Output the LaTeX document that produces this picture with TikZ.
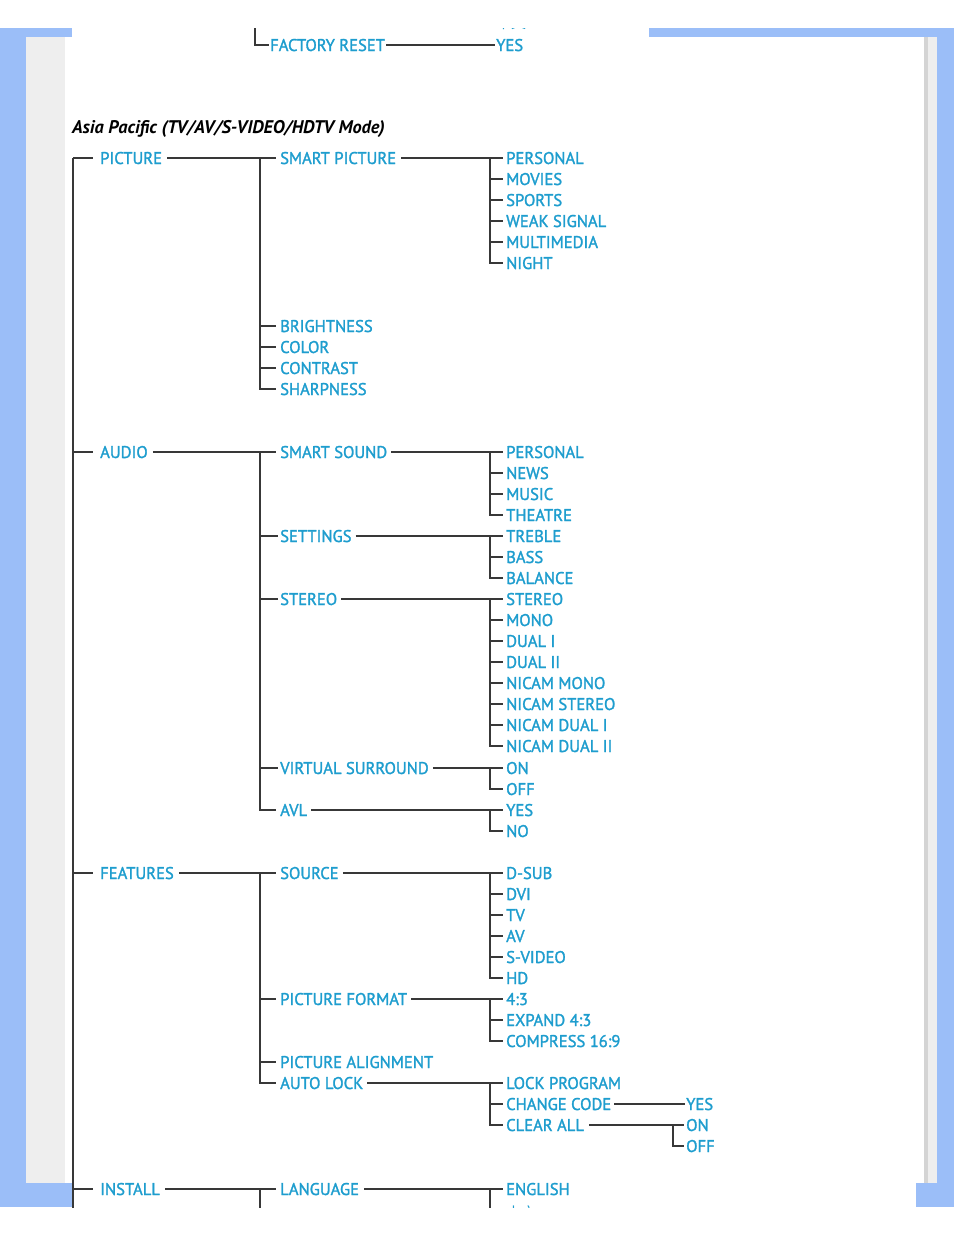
\documentclass[tikz,border=0pt]{standalone}
\usepackage{fontspec}
\setmainfont{PT Sans}
\newfontfamily\menufont{PT Sans}[FakeBold=1.6, FakeStretch=0.975]
\newfontfamily\cjkfont{Noto Sans CJK SC}
\usepackage{tikz}
\usetikzlibrary{calc}

\definecolor{menublue}{RGB}{30,157,206}
\definecolor{pageblue}{RGB}{155,190,248}
\definecolor{stripgray}{RGB}{238,238,238}
\definecolor{edgegray}{RGB}{212,212,212}

\tikzset{
    lbl/.style={anchor=west, inner sep=0pt, text height=12pt, text depth=0pt,
        text=menublue, font=\menufont\fontsize{17}{17}\selectfont},
    link/.style={draw=black!78, line width=1.1pt},
}

\begin{document}
\begin{tikzpicture}[x=1pt, y=-1pt]
    \useasboundingbox (0,0) rectangle (954,1235);
    % Page frame
    \fill[pageblue] (0,28) rectangle (26,1207);
    \fill[stripgray] (26,37) rectangle (65,1183);
    \fill[pageblue] (0,28) rectangle (72,37);
    \fill[pageblue] (649,28) rectangle (954,37);
    \fill[pageblue] (0,1183) rectangle (72,1207);
    \fill[edgegray] (924,37) rectangle (928,1183);
    \fill[stripgray] (928,37) rectangle (937,1183);
    \fill[pageblue] (937,28) rectangle (954,1207);
    \fill[pageblue] (916,1183) rectangle (954,1207);
    % Trunk columns
    \coordinate (t0) at (73,0);
    \coordinate (t1) at (260,0);
    \coordinate (t2) at (490,0);
    \coordinate (t3) at (673,0);
    \coordinate (cut) at (0,1220);
    \begin{scope}
        \clip (65,28) rectangle (924,1207);
        % Tail of the previous menu
        \coordinate (frtop) at (255,20);
        \node[lbl] (fr) at (270,45) {FACTORY RESET};
        \node[lbl] (fryes) at (496,45) {YES};
        \node[lbl, font=\cjkfont\fontsize{15}{15}\selectfont] (prevcn) at (496,22) {中文};
        \draw[link] (frtop) |- ([xshift=-1pt]fr.west);
        \draw[link] ([xshift=1pt]fr.east) -- ([xshift=-1pt]fryes.west);
        % Title
        \node[anchor=west, inner sep=0pt, text height=13pt, text depth=0pt,
            font=\fontsize{18.3}{18.3}\selectfont\bfseries\itshape] (title) at (72,127)
            {Asia Pacific (TV/AV/S-VIDEO/HDTV Mode)};
        % Main menu
        \node[lbl] (pic) at (100,158) {PICTURE};
        \node[lbl] (aud) at (100,452) {AUDIO};
        \node[lbl] (feat) at (100,873) {FEATURES};
        \node[lbl] (inst) at (100,1189) {INSTALL};
        \draw[link] (t0 |- pic.west) -- (t0 |- cut);
        \foreach \n in {pic,aud,feat,inst}
            \draw[link] (t0 |- \n.west) -- ([xshift=-7pt]\n.west);
        % PICTURE
        \node[lbl] (spic) at (280,158) {SMART PICTURE};
        \foreach \t [count=\i] in {BRIGHTNESS,COLOR,CONTRAST,SHARPNESS}
            \node[lbl] (pset\i) at (280,{305+21*\i}) {\t};
        \foreach \t [count=\i] in {PERSONAL,MOVIES,SPORTS,WEAK SIGNAL,MULTIMEDIA,NIGHT}
            \node[lbl] (spic\i) at (506,{137+21*\i}) {\t};
        \draw[link] ([xshift=5pt]pic.east) -- ([xshift=-4pt]spic.west);
        \draw[link] (t1 |- spic.west) |- ([xshift=-4pt]pset4.west);
        \foreach \i in {1,2,3}
            \draw[link] (t1 |- pset\i.west) -- ([xshift=-4pt]pset\i.west);
        \draw[link] ([xshift=5pt]spic.east) -- ([xshift=-3pt]spic1.west);
        \draw[link] (t2 |- spic1.west) |- ([xshift=-3pt]spic6.west);
        \foreach \i in {2,...,5}
            \draw[link] (t2 |- spic\i.west) -- ([xshift=-3pt]spic\i.west);
        % AUDIO
        \node[lbl] (snd) at (280,452) {SMART SOUND};
        \node[lbl] (aset) at (280,536) {SETTINGS};
        \node[lbl] (ster) at (280,599) {STEREO};
        \node[lbl] (vsur) at (280,768) {VIRTUAL SURROUND};
        \node[lbl] (avl) at (280,810) {AVL};
        \draw[link] ([xshift=5pt]aud.east) -- ([xshift=-4pt]snd.west);
        \draw[link] (t1 |- snd.west) |- ([xshift=-4pt]avl.west);
        \foreach \n in {aset,ster,vsur}
            \draw[link] (t1 |- \n.west) -- ([xshift=-2pt]\n.west);
        \foreach \t [count=\i] in {PERSONAL,NEWS,MUSIC,THEATRE}
            \node[lbl] (snd\i) at (506,{431+21*\i}) {\t};
        \foreach \t [count=\i] in {TREBLE,BASS,BALANCE}
            \node[lbl] (aset\i) at (506,{515+21*\i}) {\t};
        \foreach \t [count=\i] in {STEREO,MONO,DUAL I,DUAL II,NICAM MONO,NICAM STEREO,NICAM DUAL I,NICAM DUAL II}
            \node[lbl] (ster\i) at (506,{578+21*\i}) {\t};
        \foreach \t [count=\i] in {ON,OFF}
            \node[lbl] (vsur\i) at (506,{747+21*\i}) {\t};
        \foreach \t [count=\i] in {YES,NO}
            \node[lbl] (avl\i) at (506,{789+21*\i}) {\t};
        \foreach \n/\last in {snd/4,aset/3,ster/8,vsur/2,avl/2} {
            \draw[link] ([xshift=4pt]\n.east) -- ([xshift=-3pt]\n1.west);
            \draw[link] (t2 |- \n1.west) |- ([xshift=-3pt]\n\last.west);
            \foreach \i in {1,...,\last}
                \draw[link] (t2 |- \n\i.west) -- ([xshift=-3pt]\n\i.west);
        }
        % FEATURES
        \node[lbl] (src) at (280,873) {SOURCE};
        \node[lbl] (pfmt) at (280,999) {PICTURE FORMAT};
        \node[lbl] (palign) at (280,1062) {PICTURE ALIGNMENT};
        \node[lbl] (alock) at (280,1083) {AUTO LOCK};
        \draw[link] ([xshift=5pt]feat.east) -- ([xshift=-4pt]src.west);
        \draw[link] (t1 |- src.west) |- ([xshift=-4pt]alock.west);
        \foreach \n in {pfmt,palign}
            \draw[link] (t1 |- \n.west) -- ([xshift=-4pt]\n.west);
        \foreach \t [count=\i] in {D-SUB,DVI,TV,AV,S-VIDEO,HD}
            \node[lbl] (src\i) at (506,{852+21*\i}) {\t};
        \foreach \t [count=\i] in {4:3,EXPAND 4:3,COMPRESS 16:9}
            \node[lbl] (pfmt\i) at (506,{978+21*\i}) {\t};
        \foreach \t [count=\i] in {LOCK PROGRAM,CHANGE CODE,CLEAR ALL}
            \node[lbl] (alock\i) at (506,{1062+21*\i}) {\t};
        \foreach \n/\last in {src/6,pfmt/3,alock/3} {
            \draw[link] ([xshift=4pt]\n.east) -- ([xshift=-3pt]\n1.west);
            \draw[link] (t2 |- \n1.west) |- ([xshift=-3pt]\n\last.west);
            \foreach \i in {1,...,\last}
                \draw[link] (t2 |- \n\i.west) -- ([xshift=-3pt]\n\i.west);
        }
        \node[lbl] (code1) at (686,1104) {YES};
        \node[lbl] (clr1) at (686,1125) {ON};
        \node[lbl] (clr2) at (686,1146) {OFF};
        \draw[link] ([xshift=3pt]alock2.east) -- ([xshift=-1pt]code1.west);
        \draw[link] ([xshift=5pt]alock3.east) -- ([xshift=-2pt]clr1.west);
        \draw[link] (t3 |- clr1.west) |- ([xshift=-2pt]clr2.west);
        % INSTALL
        \node[lbl] (lang) at (280,1189) {LANGUAGE};
        \node[lbl] (lang1) at (506,1189) {ENGLISH};
        \node[lbl, font=\cjkfont\fontsize{15}{15}\selectfont] (lang2) at (506,1212) {中文};
        \draw[link] ([xshift=5pt]inst.east) -- ([xshift=-4pt]lang.west);
        \draw[link] (t1 |- lang.west) -- (t1 |- cut);
        \draw[link] ([xshift=5pt]lang.east) -- ([xshift=-3pt]lang1.west);
        \draw[link] (t2 |- lang1.west) -- (t2 |- cut);
        \draw[link] (t2 |- lang2.west) -- ([xshift=-3pt]lang2.west);
    \end{scope}
\end{tikzpicture}
\end{document}
